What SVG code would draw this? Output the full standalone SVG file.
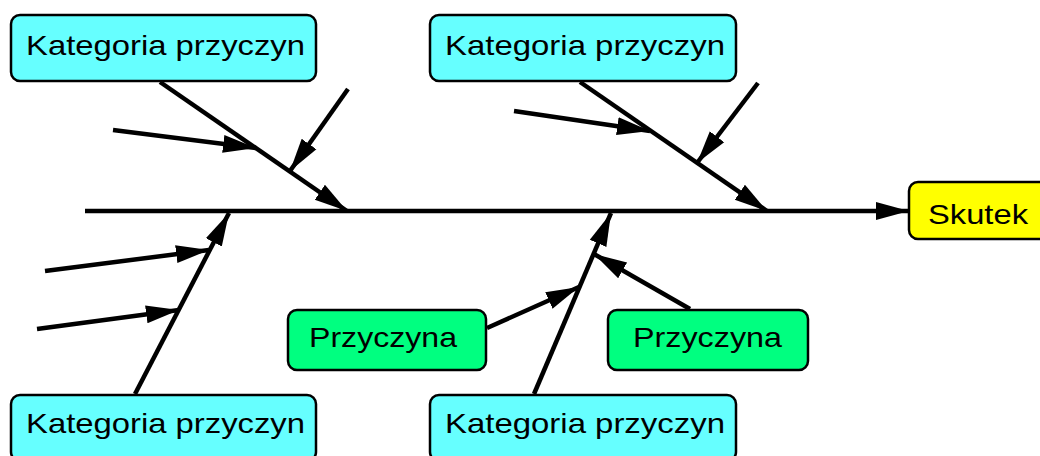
<svg xmlns="http://www.w3.org/2000/svg" width="1040" height="456" viewBox="0 0 1040 456">
<style>
.box{stroke:#000;stroke-width:2.5}
.cat{fill:#66FFFF}
.cause{fill:#00FF80}
.eff{fill:#FFFF00}
.lbl{font-family:"Liberation Sans",Arial,sans-serif;font-size:28px;fill:#000}
.ln{stroke:#000;stroke-width:4.5;fill:none;marker-end:url(#ah)}
</style>
<defs>
<marker id="ah" markerUnits="userSpaceOnUse" markerWidth="34" markerHeight="22" refX="33" refY="10" orient="auto" viewBox="0 0 34 20">
<path d="M0,1 L33,10 L0,19 Z" fill="#000"/>
</marker>
</defs>
<rect width="1040" height="456" fill="#fff"/>
<g id="connectors">
<line class="ln" x1="85" y1="211" x2="909" y2="211"/>
<line class="ln" x1="160" y1="82" x2="347" y2="211"/>
<line class="ln" x1="113" y1="130" x2="256" y2="148"/>
<line class="ln" x1="348" y1="89" x2="290" y2="171"/>
<line class="ln" x1="580" y1="82" x2="767" y2="211"/>
<line class="ln" x1="514" y1="111" x2="650" y2="131"/>
<line class="ln" x1="758" y1="83" x2="697" y2="163"/>
<line class="ln" x1="135" y1="394" x2="229" y2="213"/>
<line class="ln" x1="45" y1="271" x2="209" y2="250"/>
<line class="ln" x1="37" y1="329" x2="179" y2="310"/>
<line class="ln" x1="534" y1="394" x2="611" y2="213"/>
<line class="ln" x1="487" y1="328" x2="579" y2="287"/>
<line class="ln" x1="690" y1="309" x2="594" y2="254"/>
</g>
<g id="cat-top-left">
<rect class="box cat" x="11" y="15" width="305" height="66" rx="9"/>
<text class="lbl" x="26" y="55" textLength="279" lengthAdjust="spacingAndGlyphs">Kategoria przyczyn</text>
</g>
<g id="cat-top-right">
<rect class="box cat" x="430" y="15" width="306" height="66" rx="9"/>
<text class="lbl" x="445" y="55" textLength="280" lengthAdjust="spacingAndGlyphs">Kategoria przyczyn</text>
</g>
<g id="cat-bottom-left">
<rect class="box cat" x="11" y="395" width="305" height="66" rx="9"/>
<text class="lbl" x="26" y="433" textLength="279" lengthAdjust="spacingAndGlyphs">Kategoria przyczyn</text>
</g>
<g id="cat-bottom-right">
<rect class="box cat" x="430" y="395" width="306" height="66" rx="9"/>
<text class="lbl" x="445" y="433" textLength="280" lengthAdjust="spacingAndGlyphs">Kategoria przyczyn</text>
</g>
<g id="cause-left">
<rect class="box cause" x="288" y="310" width="198" height="60" rx="9"/>
<text class="lbl" x="309" y="347" textLength="148" lengthAdjust="spacingAndGlyphs">Przyczyna</text>
</g>
<g id="cause-right">
<rect class="box cause" x="608" y="310" width="200" height="60" rx="9"/>
<text class="lbl" x="633" y="347" textLength="149" lengthAdjust="spacingAndGlyphs">Przyczyna</text>
</g>
<g id="effect">
<rect class="box eff" x="909" y="182" width="140" height="57" rx="9"/>
<text class="lbl" x="928" y="224" textLength="100" lengthAdjust="spacingAndGlyphs">Skutek</text>
</g>
</svg>
